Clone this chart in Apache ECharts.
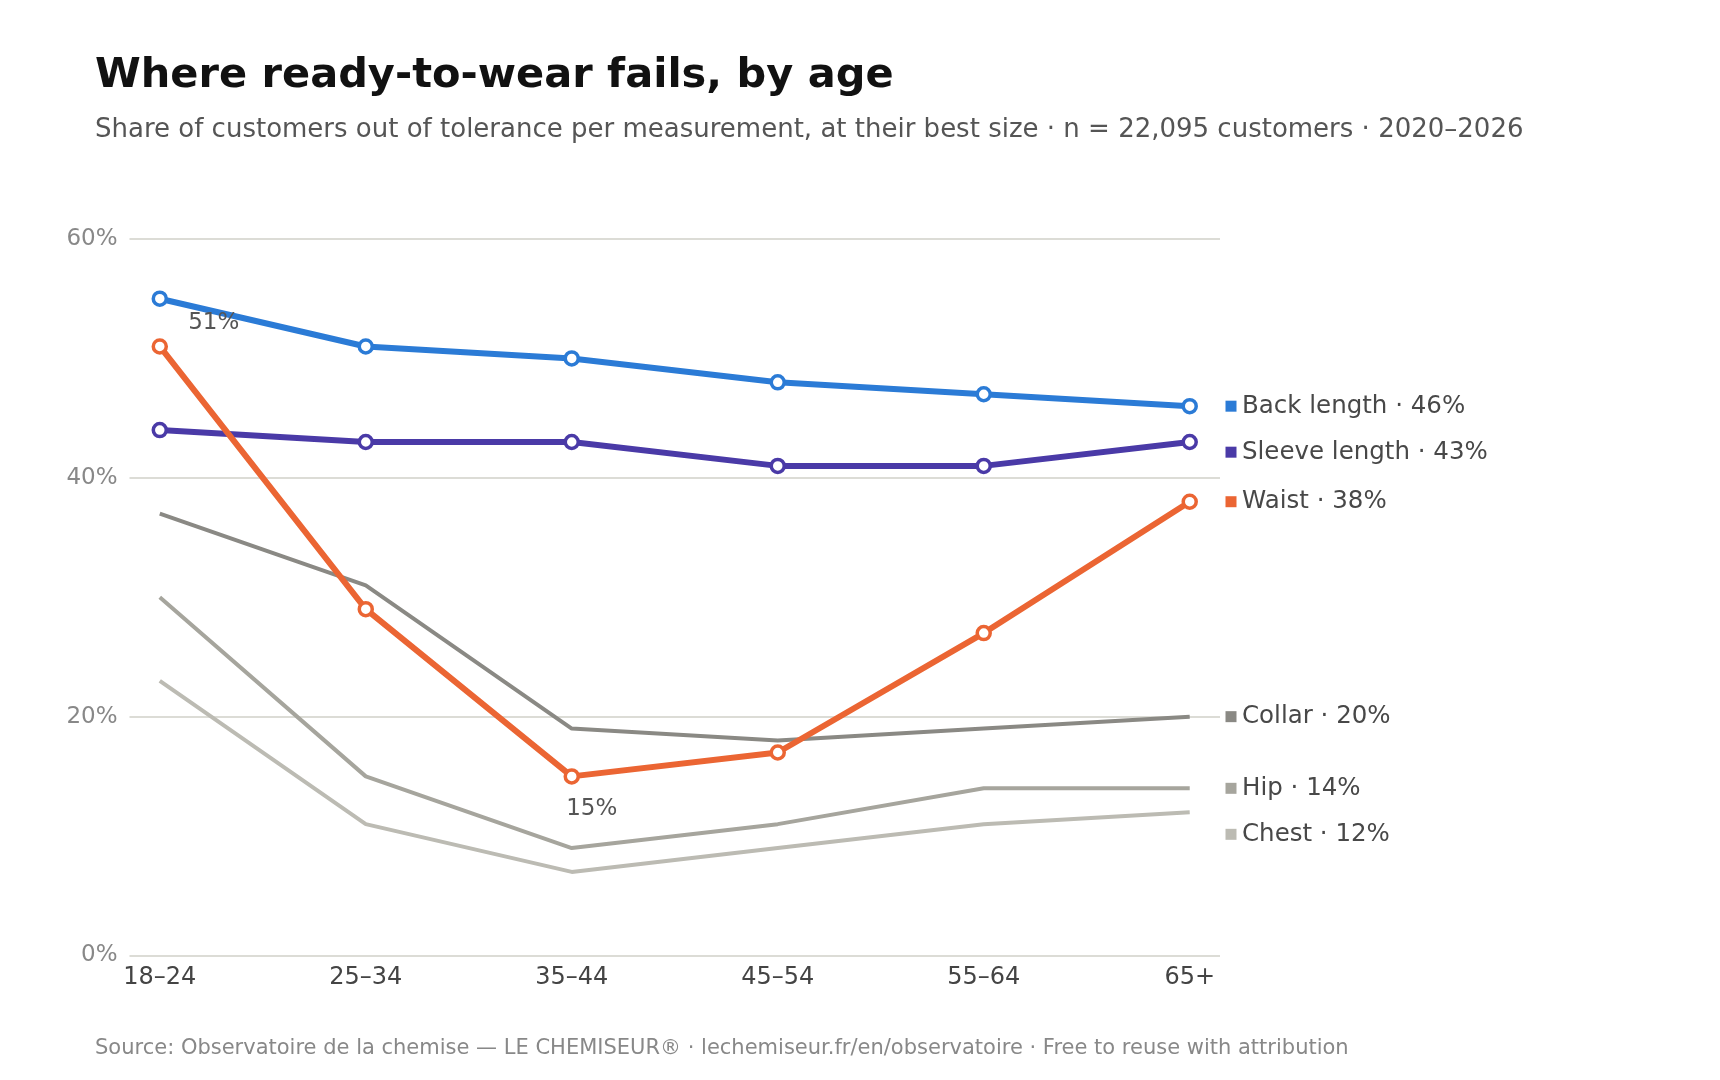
<!DOCTYPE html>
<html>
<head>
<meta charset="utf-8">
<script src="https://cdn.jsdelivr.net/npm/echarts@6/dist/echarts.min.js"></script>
<style>
html,body{margin:0;padding:0;background:#fff;}
#chart{width:1720px;height:1080px;}
</style>
</head>
<body>
<div id="chart"></div>
<script>
const categories = ['18–24', '25–34', '35–44', '45–54', '55–64', '65+'];
const seriesNames = ['Back length', 'Sleeve length', 'Waist', 'Collar', 'Hip', 'Chest'];
const backLength = [55, 51, 50, 48, 47, 46];
const sleeveLength = [44, 43, 43, 41, 41, 43];
const waist = [51, 29, 15, 17, 27, 38];
const collar = [37, 31, 19, 18, 19, 20];
const hip = [30, 15, 9, 11, 14, 14];
const chest = [23, 11, 7, 9, 11, 12];
const yTicks = [0, 20, 40, 60];

const FONT = 'DejaVu Sans';
const colors = {
  'Back length': '#2b7bd6',
  'Sleeve length': '#4a3aa7',
  'Waist': '#eb6533',
  'Collar': '#8a8984',
  'Hip': '#a6a59d',
  'Chest': '#bcbbb3'
};
const values = {
  'Back length': backLength,
  'Sleeve length': sleeveLength,
  'Waist': waist,
  'Collar': collar,
  'Hip': hip,
  'Chest': chest
};
const highlighted = ['Back length', 'Sleeve length', 'Waist'];
const drawOrder = ['Chest', 'Hip', 'Collar', 'Sleeve length', 'Back length', 'Waist'];

const wMax = Math.max.apply(null, waist);
const wMin = Math.min.apply(null, waist);

function buildData(name) {
  return values[name].map(function (v, i) {
    const item = { value: [i, v] };
    if (name === 'Waist' && v === wMax) {
      item.label = { show: true, position: 'inside', offset: [54, -23], formatter: v + '%' };
    } else if (name === 'Waist' && v === wMin) {
      item.label = { show: true, position: 'inside', offset: [20, 33], formatter: v + '%' };
    }
    return item;
  });
}

const series = drawOrder.map(function (name) {
  const hi = highlighted.indexOf(name) >= 0;
  return {
    name: name,
    type: 'line',
    data: buildData(name),
    showSymbol: hi,
    symbol: 'circle',
    symbolSize: hi ? 13 : 0,
    itemStyle: { color: '#fff', borderColor: colors[name], borderWidth: 3.5 },
    lineStyle: { color: colors[name], width: hi ? 6 : 4 },
    label: { show: false, color: '#555', fontSize: 23, fontFamily: FONT },
    emphasis: { disabled: true },
    animation: false,
    z: hi ? 3 : 2
  };
});

const chart = echarts.init(document.getElementById('chart'), null, { renderer: 'canvas' });
const option = {
  backgroundColor: '#fff',
  animation: false,
  title: [
    { text: 'Where ready-to-wear fails, by age', left: 95, top: 55, padding: 0,
      textStyle: { fontFamily: FONT, fontSize: 41.5, fontWeight: 'bold', color: '#111' } },
    { text: 'Share of customers out of tolerance per measurement, at their best size · n = 22,095 customers · 2020–2026',
      left: 95, top: 117, padding: 0,
      textStyle: { fontFamily: FONT, fontSize: 26, fontWeight: 'normal', color: '#555' } },
    { text: 'Source: Observatoire de la chemise — LE CHEMISEUR® · lechemiseur.fr/en/observatoire · Free to reuse with attribution',
      left: 95, top: 1038, padding: 0,
      textStyle: { fontFamily: FONT, fontSize: 21, fontWeight: 'normal', color: '#888' } }
  ],
  grid: { left: 129.5, right: 500, top: 239, bottom: 124.5, containLabel: false },
  xAxis: {
    type: 'value',
    min: -0.147, max: 5.147,
    axisLine: { show: false },
    axisTick: { show: false },
    splitLine: { show: false },
    axisLabel: {
      customValues: categories.map(function (c, i) { return i; }),
      formatter: function (v) { return categories[Math.round(v)]; },
      color: '#444', fontSize: 24, fontFamily: FONT, margin: 10
    }
  },
  yAxis: {
    type: 'value',
    min: 0, max: 60, interval: 20,
    axisLine: { show: false },
    axisTick: { show: false },
    splitLine: { show: true, lineStyle: { color: '#dcdcd6', width: 2 } },
    axisLabel: { formatter: '{value}%', color: '#888', fontSize: 23, fontFamily: FONT, margin: 12,
      padding: [4, 0, 0, 0] }
  },
  series: series
};
chart.setOption(option);

// End labels on the right, de-overlapped
const ends = seriesNames.map(function (name) {
  const arr = values[name];
  const last = arr[arr.length - 1];
  const p = chart.convertToPixel({ gridIndex: 0 }, [arr.length - 1, last]);
  return { name: name, v: last, y: p[1] };
});
ends.sort(function (a, b) { return a.y - b.y; });
const gap = 46;
for (let i = 1; i < ends.length; i++) {
  if (ends[i].y < ends[i - 1].y + gap) ends[i].y = ends[i - 1].y + gap;
}
const xRight = chart.convertToPixel({ gridIndex: 0 }, [5.147, 0])[0];
const graphics = [];
ends.forEach(function (e) {
  graphics.push({
    type: 'rect', shape: { x: xRight + 5.5, y: e.y - 5.5, width: 11, height: 11 },
    style: { fill: colors[e.name] }, silent: true
  });
  graphics.push({
    type: 'text', x: xRight + 22, y: e.y,
    style: { text: e.name + ' · ' + e.v + '%', fontFamily: FONT, fontSize: 24.5, fill: '#484848',
      textVerticalAlign: 'middle', verticalAlign: 'middle', align: 'left' },
    silent: true
  });
});
chart.setOption({ graphic: graphics });
</script>
</body>
</html>
